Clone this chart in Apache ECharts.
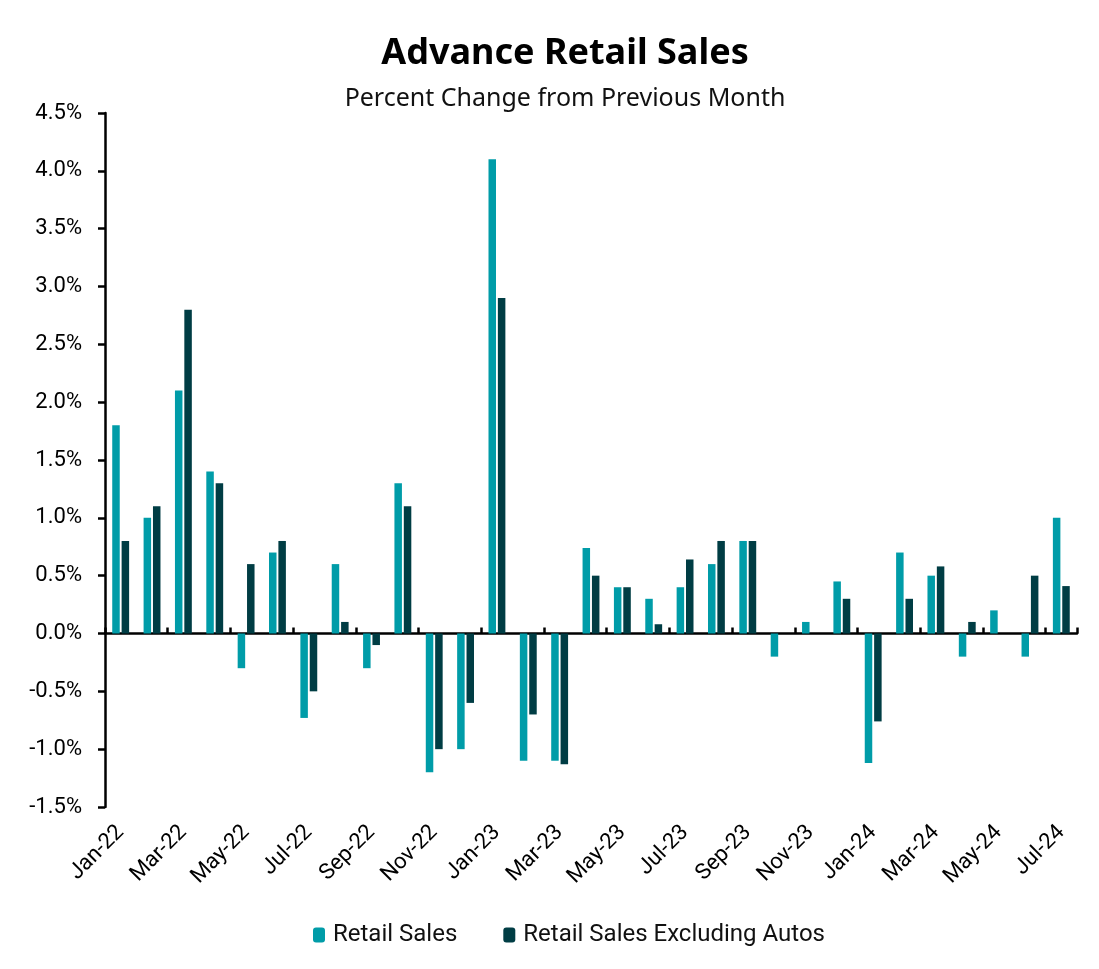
<!DOCTYPE html>
<html><head><meta charset="utf-8">
<script src="https://cdn.jsdelivr.net/npm/echarts@6/dist/echarts.min.js"></script>
<style>html,body{margin:0;padding:0;background:#fff}#c{width:1099px;height:969px}</style>
</head><body><div id="c"></div>
<script>
const categories = ['Jan-22','Feb-22','Mar-22','Apr-22','May-22','Jun-22','Jul-22','Aug-22','Sep-22','Oct-22','Nov-22','Dec-22',
'Jan-23','Feb-23','Mar-23','Apr-23','May-23','Jun-23','Jul-23','Aug-23','Sep-23','Oct-23','Nov-23','Dec-23',
'Jan-24','Feb-24','Mar-24','Apr-24','May-24','Jun-24','Jul-24'];
const retailSales = [1.8,1.0,2.1,1.4,-0.3,0.7,-0.73,0.6,-0.3,1.3,-1.2,-1.0,
4.1,-1.1,-1.1,0.74,0.4,0.3,0.4,0.6,0.8,-0.2,0.1,0.45,
-1.12,0.7,0.5,-0.2,0.2,-0.2,1.0];
const retailExAutos = [0.8,1.1,2.8,1.3,0.6,0.8,-0.5,0.1,-0.1,1.1,-1.0,-0.6,
2.9,-0.7,-1.13,0.5,0.4,0.08,0.64,0.8,0.8,0,0,0.3,
-0.76,0.3,0.58,0.1,0,0.5,0.41];
const yTicks = {min:-1.5, max:4.5, interval:0.5};

const font = 'Roboto, "Noto Sans", sans-serif';
const titleFont = '"Noto Sans", "Open Sans", sans-serif';
const chart = echarts.init(document.getElementById('c'));
chart.setOption({
  animation:false,
  title:{text:'Advance Retail Sales', subtext:'Percent Change from Previous Month', top:31, itemGap:14,
    left:560, textAlign:'center',
    textStyle:{fontFamily:titleFont, fontWeight:'bold', fontSize:36, color:'#000'},
    subtextStyle:{fontFamily:titleFont, fontSize:25, color:'#111'}},
  legend:{bottom:17, left:308, itemWidth:12, itemHeight:15, itemGap:46,
    textStyle:{fontFamily:font, fontSize:24, color:'#111', padding:[0,0,0,3]},
    data:['Retail Sales','Retail Sales Excluding Autos']},
  grid:{left:105, right:22, top:113, bottom:162},
  xAxis:[
    {type:'category', data:categories, axisLine:{onZero:true, lineStyle:{color:'#000', width:2.5}},
     axisTick:{show:true, inside:true, length:6, lineStyle:{color:'#000', width:2.5}},
     axisLabel:{show:false}, splitLine:{show:false}},
    {type:'category', data:categories, position:'bottom', axisLine:{show:false, onZero:false}, axisTick:{show:false},
     axisLabel:{interval:1, rotate:45, margin:22, fontFamily:font, fontSize:22, color:'#000'}}
  ],
  yAxis:{type:'value', min:yTicks.min, max:yTicks.max, interval:yTicks.interval,
    axisLine:{show:true, lineStyle:{color:'#000', width:2.5}},
    axisTick:{show:true, length:7, lineStyle:{color:'#000', width:2.5}},
    splitLine:{show:false},
    axisLabel:{margin:23, fontFamily:font, fontSize:22, color:'#000', formatter:v=>v.toFixed(1)+'%'}},
  series:[
    {name:'Retail Sales', type:'bar', data:retailSales, barWidth:7.5, barGap:'25%', itemStyle:{color:'#009CA8'}},
    {name:'Retail Sales Excluding Autos', type:'bar', data:retailExAutos, barWidth:7.5, barGap:'25%', itemStyle:{color:'#003D44'}}
  ]
});
</script></body></html>
